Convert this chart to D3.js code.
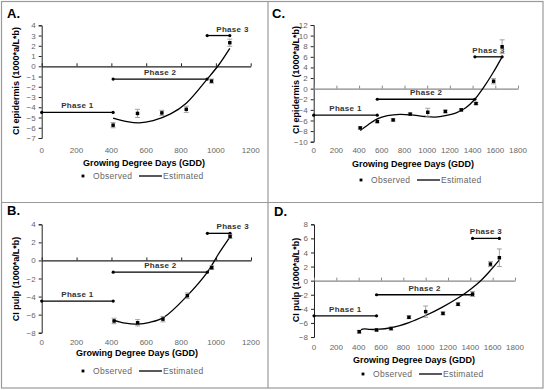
<!DOCTYPE html>
<html><head><meta charset="utf-8">
<script src="https://cdn.jsdelivr.net/npm/d3@7"></script>
<style>
html,body{margin:0;padding:0;background:#fff;}
svg{display:block;font-family:"Liberation Sans",Arial,sans-serif;}
</style></head>
<body><svg id="c" width="551" height="390"></svg>
<script>
// ---------------- DATA ----------------
const phaseLabels = ["Phase 1", "Phase 2", "Phase 3"];
const xTicksAB = [0, 200, 400, 600, 800, 1000, 1200];
const xTicksCD = [0, 200, 400, 600, 800, 1000, 1200, 1400, 1600, 1800];
const yTicksA = [-7, -6, -5, -4, -3, -2, -1, 0, 1, 2, 3, 4];
const yTicksB = [-8, -6, -4, -2, 0, 2, 4];
const yTicksC = [-10, -8, -6, -4, -2, 0, 2, 4, 6, 8, 10, 12];
const yTicksD = [-8, -6, -4, -2, 0, 2, 4, 6, 8];
const yTitleEpidermis = "CI epidermis (1000*a/L*b)";
const yTitlePulp = "CI pulp (1000*a/L*b)";
const xTitle = "Growing Degree Days (GDD)";
const legendLabels = ["Observed", "Estimated"];

// Panel A
const obsGddA = [410, 550, 690, 830, 975, 1080];
const obsValA = [-5.75, -4.6, -4.55, -4.2, -1.45, 2.3];
const obsErrA = [0.25, 0.4, 0.25, 0.3, 0.2, 0.35];
const estGddA = [410, 490, 560, 640, 740, 830, 950, 1015, 1080];
const estValA = [-5.05, -5.4, -5.52, -5.3, -4.65, -3.6, -1.25, 0.1, 1.75];
const phaseStartA = [0, 410, 950];
const phaseEndA = [410, 950, 1080];
const phaseLevelA = [-4.5, -1.25, 3];

// Panel B
const obsGddB = [415, 550, 695, 835, 975, 1080];
const obsValB = [-6.7, -6.9, -6.5, -3.9, -0.8, 2.65];
const obsErrB = [0.3, 0.35, 0.3, 0.3, 0.2, 0.2];
const estGddB = [410, 480, 550, 620, 700, 830, 950, 1010, 1080];
const estValB = [-6.6, -6.95, -7.05, -6.85, -6.3, -4.0, -1.3, 0.6, 2.6];
const phaseStartB = [0, 410, 950];
const phaseEndB = [410, 950, 1080];
const phaseLevelB = [-4.5, -1.3, 3];

// Panel C
const obsGddC = [410, 560, 700, 850, 1005, 1160, 1300, 1430, 1585, 1660];
const obsValC = [-7.4, -6.2, -5.9, -4.8, -4.45, -4.3, -4.0, -2.8, 1.4, 7.9];
const obsErrC = [0.2, 0.2, 0.2, 0.2, 0.75, 0.25, 0.2, 0.2, 0.5, 1.3];
const estGddC = [410, 480, 560, 650, 760, 880, 980, 1070, 1160, 1250, 1340, 1420, 1490, 1580, 1660];
const estValC = [-7.9, -6.8, -5.7, -5.1, -4.85, -5.0, -5.25, -5.35, -5.1, -4.6, -3.6, -2.0, 0, 3.0, 6.0];
const phaseStartC = [0, 560, 1420];
const phaseEndC = [560, 1420, 1660];
const phaseLevelC = [-5, -2, 6];

// Panel D
const obsGddD = [405, 560, 690, 850, 1000, 1155, 1290, 1420, 1580, 1660];
const obsValD = [-7.25, -7.0, -6.8, -5.2, -4.4, -4.65, -3.35, -1.9, 2.35, 3.25];
const obsErrD = [0.2, 0.15, 0.2, 0.2, 0.8, 0.2, 0.2, 0.35, 0.35, 1.25];
const estGddD = [420, 450, 500, 560, 700, 850, 1000, 1150, 1300, 1400, 1500, 1580, 1660];
const estValD = [-6.95, -6.85, -6.92, -6.92, -6.65, -5.95, -4.95, -3.75, -2.35, -1.25, 0.1, 1.45, 2.95];
const phaseStartD = [0, 560, 1420];
const phaseEndD = [560, 1420, 1660];
const phaseLevelD = [-5, -2, 6];

// ---------------- LAYOUT ----------------
const panels = [
  {letter:"A.", lx:7, ly:18, xDom:[0,1200], xR:[41.7,250.7], yDom:[-7,4], yR:[138,25.3], xTicks:xTicksAB, yTicks:yTicksA,
   yTitle:yTitleEpidermis, ytx:16, yty:81, xtx:144, xty:166, tly:153, legY:176, legX:83, axisCol:"#222",
   obsG:obsGddA, obsV:obsValA, obsE:obsErrA, estG:estGddA, estV:estValA, pS:phaseStartA, pE:phaseEndA, pL:phaseLevelA, p3dx:14},
  {letter:"B.", lx:7, ly:215, xDom:[0,1200], xR:[41.7,251], yDom:[-8,4], yR:[332.7,224.3], xTicks:xTicksAB, yTicks:yTicksB,
   yTitle:yTitlePulp, ytx:16, yty:279, xtx:137, xty:356, tly:345, legY:371, legX:83, axisCol:"#222",
   obsG:obsGddB, obsV:obsValB, obsE:obsErrB, estG:estGddB, estV:estValB, pS:phaseStartB, pE:phaseEndB, pL:phaseLevelB, p3dx:14},
  {letter:"C.", lx:272, ly:18, xDom:[0,1800], xR:[313.7,518], yDom:[-10,12], yR:[141.7,25], xTicks:xTicksCD, yTicks:yTicksC,
   yTitle:yTitleEpidermis, ytx:296, yty:80, xtx:413, xty:167, tly:153, legY:180, legX:361, axisCol:"#888",
   obsG:obsGddC, obsV:obsValC, obsE:obsErrC, estG:estGddC, estV:estValC, pS:phaseStartC, pE:phaseEndC, pL:phaseLevelC, p3dx:0},
  {letter:"D.", lx:274, ly:216, xDom:[0,1800], xR:[314,515], yDom:[-8,8], yR:[337,224.3], xTicks:xTicksCD, yTicks:yTicksD,
   yTitle:yTitlePulp, ytx:296, yty:280, xtx:414, xty:363, tly:350, legY:374, legX:363, axisCol:"#888",
   obsG:obsGddD, obsV:obsValD, obsE:obsErrD, estG:estGddD, estV:estValD, pS:phaseStartD, pE:phaseEndD, pL:phaseLevelD, p3dx:0}
];

const svg = d3.select("#c");

// table borders
const border = svg.append("g").attr("stroke","#999").attr("stroke-width",1.2).attr("fill","none");
border.append("rect").attr("x",1.5).attr("y",1.5).attr("width",541.5).attr("height",386.5);
border.append("line").attr("x1",268).attr("x2",268).attr("y1",1.5).attr("y2",388);
border.append("line").attr("x1",1.5).attr("x2",543).attr("y1",202.5).attr("y2",202.5);

const marker = d3.symbol().type(d3.symbolSquare).size(12);

panels.forEach(p => {
  const g = svg.append("g");
  const x = d3.scaleLinear().domain(p.xDom).range(p.xR);
  const y = d3.scaleLinear().domain(p.yDom).range(p.yR);

  g.append("text").attr("x",p.lx).attr("y",p.ly).attr("font-size",13).attr("font-weight","bold").attr("fill","#000").text(p.letter);

  // y axis
  const yAxis = d3.axisLeft(y).tickValues(p.yTicks).tickSize(3).tickPadding(3).tickFormat(d3.format("d"));
  const ya = g.append("g").attr("transform",`translate(${p.xR[0]},0)`).call(yAxis);
  ya.select(".domain").attr("stroke","#222").attr("stroke-width",1);
  ya.selectAll(".tick line").attr("stroke","#222");
  ya.selectAll(".tick text").attr("font-size",8).attr("fill","#666").attr("font-family","'Liberation Sans',Arial,sans-serif");

  // x axis: line at zero, labels at bottom
  const xAxis = d3.axisTop(x).tickValues(p.xTicks).tickSize(3).tickSizeOuter(0).tickFormat("");
  const xa = g.append("g").attr("transform",`translate(0,${y(0)})`).call(xAxis);
  xa.select(".domain").attr("stroke",p.axisCol).attr("stroke-width",1.2);
  xa.selectAll(".tick line").attr("stroke",p.axisCol);
  g.append("g").selectAll("text").data(p.xTicks).join("text")
    .attr("x",d=>x(d)).attr("y",p.tly).attr("text-anchor","middle")
    .attr("font-size",8).attr("fill","#666").text(d=>d);

  // titles
  g.append("text").attr("transform",`translate(${p.ytx},${p.yty}) rotate(-90)`).attr("text-anchor","middle")
    .attr("dominant-baseline","central").attr("font-size",9).attr("font-weight","bold").attr("fill","#000").text(p.yTitle);
  g.append("text").attr("x",p.xtx).attr("y",p.xty).attr("text-anchor","middle")
    .attr("font-size",9).attr("font-weight","bold").attr("fill","#000").text(xTitle);

  // phases
  const ph = p.pS.map((s,i)=>({s, e:p.pE[i], v:p.pL[i], lab:phaseLabels[i], i}));
  g.append("g").selectAll("line").data(ph).join("line")
    .attr("x1",d=>x(d.s)).attr("x2",d=>x(d.e)).attr("y1",d=>y(d.v)).attr("y2",d=>y(d.v))
    .attr("stroke","#000").attr("stroke-width",1.3);
  const ends = ph.flatMap(d=>[[d.s,d.v],[d.e,d.v]]);
  g.append("g").selectAll("circle").data(ends).join("circle")
    .attr("cx",d=>x(d[0])).attr("cy",d=>y(d[1])).attr("r",1.6).attr("fill","#000");
  g.append("g").selectAll("text").data(ph).join("text")
    .attr("x",d=>x((d.s+d.e)/2) + (d.i===2 ? p.p3dx : 0)).attr("y",d=>y(d.v)-4)
    .attr("text-anchor","middle").attr("font-size",8).attr("font-weight","bold").attr("fill","#333")
    .attr("letter-spacing",0.3).text(d=>d.lab);

  // estimated curve
  const est = p.estG.map((gd,i)=>[gd,p.estV[i]]);
  g.append("path").datum(est)
    .attr("d",d3.line().x(d=>x(d[0])).y(d=>y(d[1])).curve(d3.curveCatmullRom.alpha(0.5)))
    .attr("fill","none").attr("stroke","#000").attr("stroke-width",1.3);

  // observed + error bars
  const obs = p.obsG.map((gd,i)=>({gd, v:p.obsV[i], e:p.obsE[i]}));
  const eb = g.append("g").attr("stroke","#999").attr("stroke-width",0.9);
  obs.forEach(d=>{
    eb.append("line").attr("x1",x(d.gd)).attr("x2",x(d.gd)).attr("y1",y(d.v-d.e)).attr("y2",y(d.v+d.e));
    eb.append("line").attr("x1",x(d.gd)-2.5).attr("x2",x(d.gd)+2.5).attr("y1",y(d.v-d.e)).attr("y2",y(d.v-d.e));
    eb.append("line").attr("x1",x(d.gd)-2.5).attr("x2",x(d.gd)+2.5).attr("y1",y(d.v+d.e)).attr("y2",y(d.v+d.e));
  });
  g.append("g").selectAll("path").data(obs).join("path")
    .attr("transform",d=>`translate(${x(d.gd)},${y(d.v)})`).attr("d",marker).attr("fill","#000");

  // legend
  const lg = g.append("g").attr("transform",`translate(${p.legX},${p.legY})`);
  lg.append("path").attr("d",d3.symbol().type(d3.symbolSquare).size(8)).attr("fill","#000");
  lg.append("text").attr("x",10).attr("y",3).attr("font-size",8.5).attr("fill","#666").attr("letter-spacing",0.3).text(legendLabels[0]);
  lg.append("line").attr("x1",56).attr("x2",79).attr("y1",0).attr("y2",0).attr("stroke","#000").attr("stroke-width",1.3);
  lg.append("text").attr("x",80).attr("y",3).attr("font-size",8.5).attr("fill","#666").attr("letter-spacing",0.3).text(legendLabels[1]);
});
</script>
</body></html>
